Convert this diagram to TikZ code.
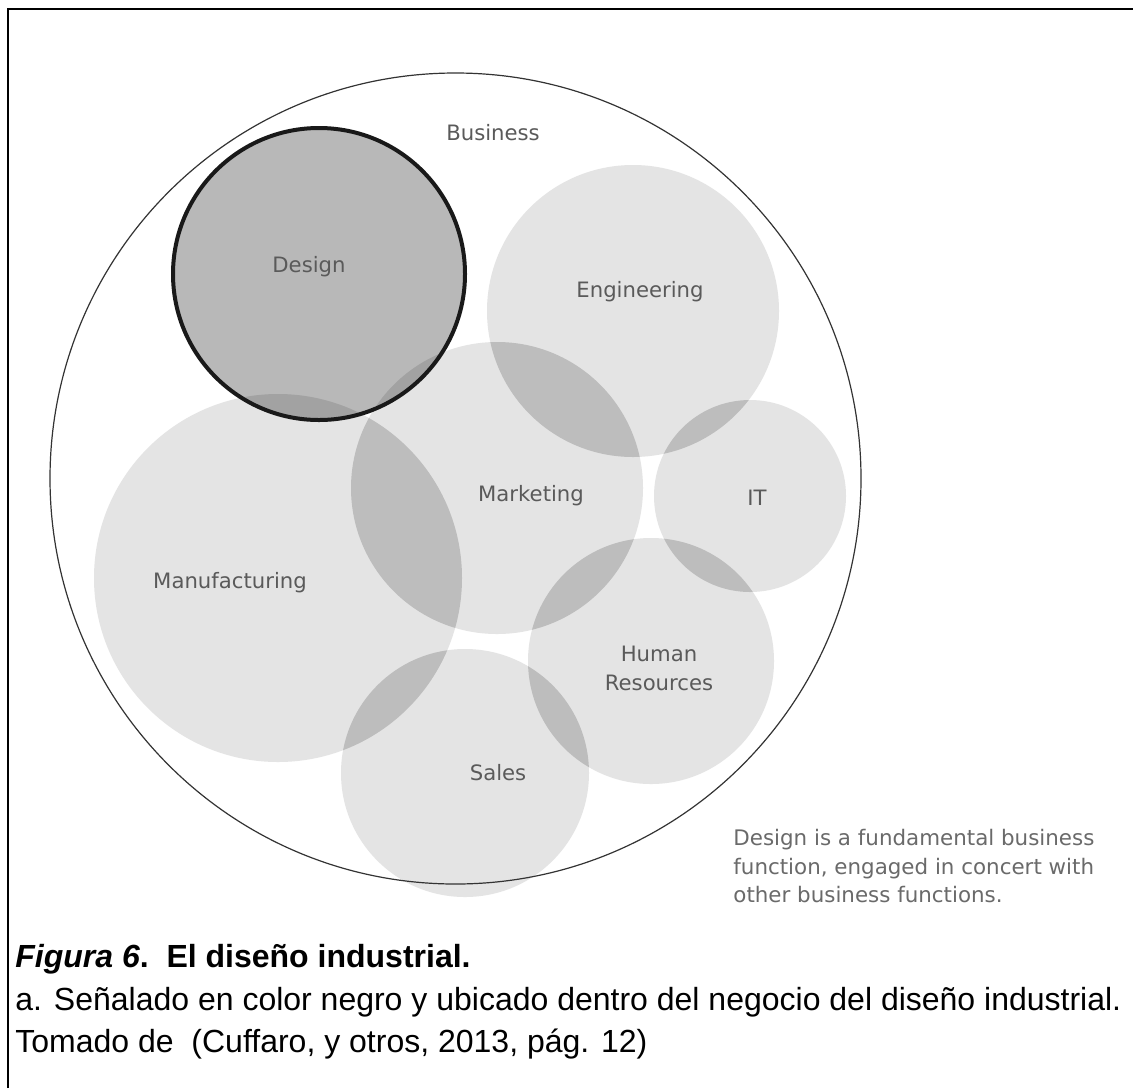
\documentclass[tikz,border=0pt]{standalone}
\usepackage{fontspec}
\setmainfont{Liberation Sans}
\newfontfamily\lblfont{DejaVu Sans}
\definecolor{cLight}{HTML}{E4E4E4}
\definecolor{cLens}{HTML}{BDBDBD}
\definecolor{cDesign}{HTML}{B8B8B8}
\definecolor{cDLens}{HTML}{A2A2A2}
\definecolor{cLabel}{HTML}{5A5A5A}
\definecolor{cNote}{HTML}{6A6A6A}
\begin{document}
\begin{tikzpicture}[x=0.5pt,y=-0.5pt,
  lightfill/.style={fill=cLight},
  lensfill/.style={fill=cLens},
  lbl/.style={font=\lblfont\fontsize{10.6}{14.5}\selectfont, text=cLabel, inner sep=0pt},
  notetxt/.style={font=\lblfont\fontsize{10.7}{14.5}\selectfont, text=cNote, anchor=base west, inner sep=0pt},
  captxt/.style={font=\fontsize{16}{19}\selectfont, anchor=base west, inner sep=0pt}]
\useasboundingbox (0,0) rectangle (1133,1088);
\fill[white] (0,0) rectangle (1133,1088);
% centres
\coordinate (bus) at (455.5,478.5);
\coordinate (des) at (319,274);
\coordinate (eng) at (633,311);
\coordinate (mkt) at (497,488);
\coordinate (man) at (278,578);
\coordinate (it)  at (750,496);
\coordinate (hr)  at (651,661);
\coordinate (sal) at (465,773);
% light circles
\fill[lightfill] (eng) circle[radius=73pt];
\fill[lightfill] (mkt) circle[radius=73pt];
\fill[lightfill] (man) circle[radius=92pt];
\fill[lightfill] (it)  circle[radius=48pt];
\fill[lightfill] (hr)  circle[radius=61.5pt];
\fill[lightfill] (sal) circle[radius=62pt];
% lenses
\begin{scope}\clip (eng) circle[radius=73pt]; \fill[lensfill] (mkt) circle[radius=73pt]; \end{scope}
\begin{scope}\clip (eng) circle[radius=73pt]; \fill[lensfill] (it) circle[radius=48pt]; \end{scope}
\begin{scope}\clip (mkt) circle[radius=73pt]; \fill[lensfill] (man) circle[radius=92pt]; \end{scope}
\begin{scope}\clip (mkt) circle[radius=73pt]; \fill[lensfill] (hr) circle[radius=61.5pt]; \end{scope}
\begin{scope}\clip (hr) circle[radius=61.5pt]; \fill[lensfill] (it) circle[radius=48pt]; \end{scope}
\begin{scope}\clip (hr) circle[radius=61.5pt]; \fill[lensfill] (sal) circle[radius=62pt]; \end{scope}
\begin{scope}\clip (man) circle[radius=92pt]; \fill[lensfill] (sal) circle[radius=62pt]; \end{scope}
% design
\fill[cDesign] (des) circle[radius=73pt];
\begin{scope}\clip (des) circle[radius=73pt]; \fill[cDLens] (man) circle[radius=92pt]; \fill[cDLens] (mkt) circle[radius=73pt]; \end{scope}
\draw[line width=2pt, black!90] (des) circle[radius=73pt];
% business outline
\draw[line width=0.6pt, black!80] (bus) circle[radius=202.75pt];
% labels
\node[lbl] (lbus) at (493,133) {Business};
\node[lbl] (ldes) at (309,267) {Design};
\node[lbl] (leng) at (640,292) {Engineering};
\node[lbl] (lmkt) at (531,496) {Marketing};
\node[lbl] (lit)  at (757,498) {IT};
\node[lbl] (lman) at (230,583) {Manufacturing};
\node[lbl, align=center] (lhr) at (659,668) {Human\\Resources};
\node[lbl] (lsal) at (498,773) {Sales};
% note
\node[notetxt] (n1) at (733,845) {Design is a fundamental business};
\node[notetxt] (n2) at (733,874) {function, engaged in concert with};
\node[notetxt] (n3) at (733,902) {other business functions.};
% caption
\node[captxt, font=\fontsize{16}{19}\selectfont\bfseries] (c1) at (15,967) {\textit{Figura 6}.\ \ El diseño industrial.};
\node[captxt] (c2) at (15,1010) {a. Señalado en color negro y ubicado dentro del negocio del diseño industrial.};
\node[captxt] (c3) at (15,1052) {Tomado de\ \ (Cuffaro, y otros, 2013, pág. 12)};
% frame
\draw[line width=1.25pt] (8,1088) -- (8,9) -- (1133,9);
\end{tikzpicture}
\end{document}
